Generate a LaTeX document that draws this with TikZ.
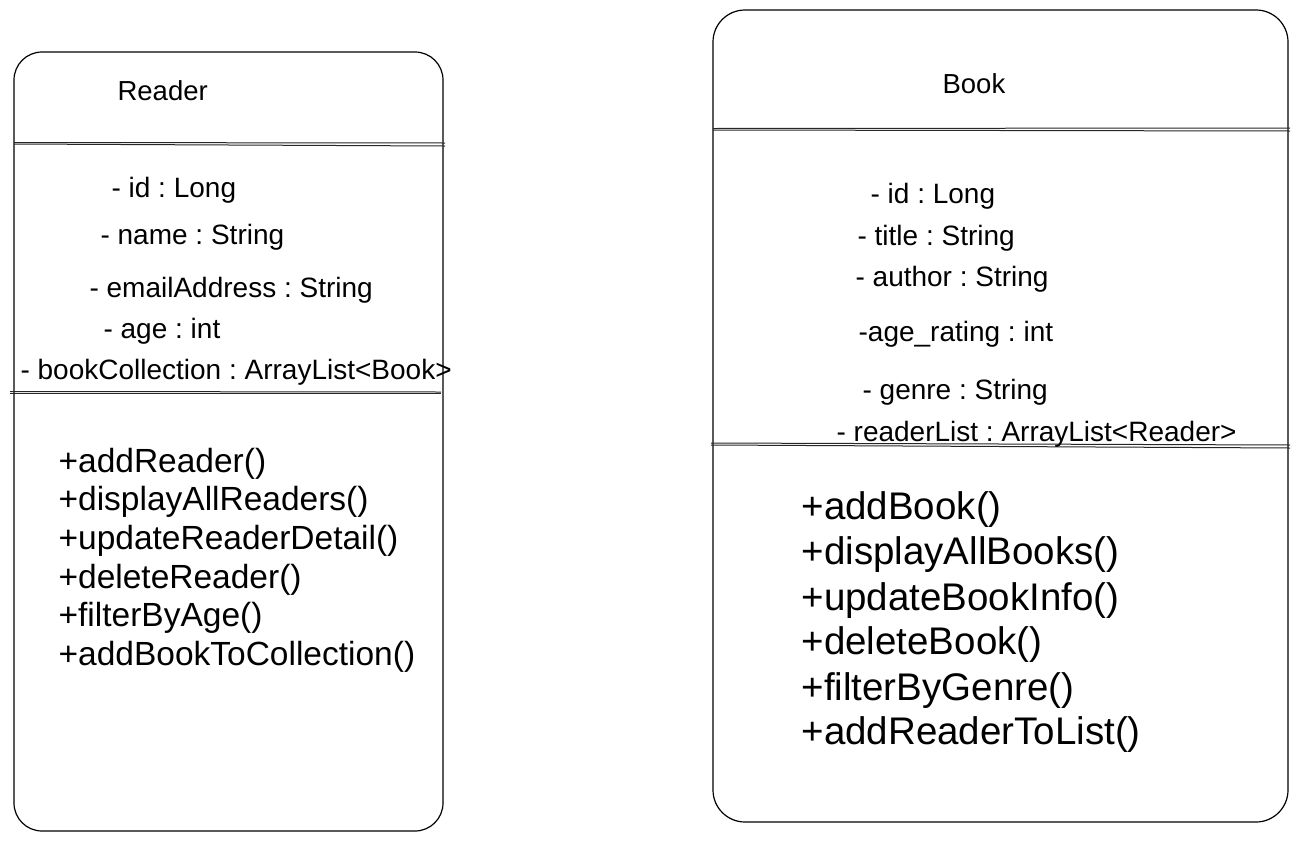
\documentclass[tikz,border=0pt]{standalone}
\usepackage{fontspec}
\setmainfont{Liberation Sans}
\usepackage{tikz}
\usepackage{xcolor}
\frenchspacing

\tikzset{
	title/.style = {anchor=base west, inner sep=0pt, font=\fontsize{27.5}{33}\selectfont},
	attr/.style = {anchor=base west, inner sep=0pt, font=\fontsize{28}{34}\selectfont},
	opsmall/.style = {anchor=base west, inner sep=0pt, font=\fontsize{33.5}{40}\selectfont},
	opbig/.style = {anchor=base west, inner sep=0pt, font=\fontsize{38.5}{46}\selectfont},
	sepline/.style = {line width=1pt, black!85}
}

\begin{document}
\begin{tikzpicture}[x=1pt, y=-1pt, line width=1.2pt]
	\useasboundingbox (0,0) rectangle (1299,841);
	
	% Reader class
	\draw[rounded corners=28pt] (14,52) rectangle (443,831);
	\coordinate (r1w) at (14,144);
	\coordinate (r1e) at (445,146);
	\coordinate (r2w) at (10,393);
	\coordinate (r2e) at (441,393);
	\draw[sepline] (r1w) -- (r1e);
	\draw[sepline] ([yshift=1.5pt]r1w) -- ([yshift=3pt]r1e);
	\draw[sepline] (r2w) -- (r2e);
	\draw[sepline] ([yshift=1.5pt]r2w) -- ([yshift=1pt]r2e);
	
	\node[title] (r0) at (117,100) {Reader};
	
	\node[attr] (ra1) at (111,197) {- id : Long};
	\node[attr] (ra2) at (100,244) {- name : String};
	\node[attr] (ra3) at (89,297) {- emailAddress : String};
	\node[attr] (ra4) at (103,338) {- age : int};
	\node[attr] (ra5) at (20,379) {- bookCollection : ArrayList<Book>};
	
	\node[opsmall] (rm1) at (58,472) {+addReader()};
	\node[opsmall] (rm2) at (58,510) {+displayAllReaders()};
	\node[opsmall] (rm3) at (58,549) {+updateReaderDetail()};
	\node[opsmall] (rm4) at (58,588) {+deleteReader()};
	\node[opsmall] (rm5) at (58,626) {+filterByAge()};
	\node[opsmall] (rm6) at (58,665) {+addBookToCollection()};
	
	% Book class
	\draw[rounded corners=32pt] (713,10) rectangle (1288,822);
	\coordinate (b1w) at (713,130);
	\coordinate (b1e) at (1290,131);
	\coordinate (b2w) at (711,445);
	\coordinate (b2e) at (1290,448);
	\draw[sepline] (b1w) -- (b1e);
	\draw[sepline] ([yshift=1.5pt]b1w) -- ([yshift=3pt]b1e);
	\draw[sepline] (b2w) -- (b2e);
	\draw[sepline] ([yshift=2pt]b2w) -- ([yshift=3pt]b2e);
	
	\node[title] (b0) at (942,93) {Book};
	
	\node[attr] (ba1) at (870,203) {- id : Long};
	\node[attr] (ba2) at (857,245) {- title : String};
	\node[attr] (ba3) at (855,286) {- author : String};
	\node[attr] (ba4) at (858,341) {-age\_rating : int};
	\node[attr] (ba5) at (862,399) {- genre : String};
	\node[attr] (ba6) at (836,441) {- readerList : ArrayList<Reader>};
	
	\node[opbig] (bm1) at (801,519) {+addBook()};
	\node[opbig] (bm2) at (801,564) {+displayAllBooks()};
	\node[opbig] (bm3) at (801,610) {+updateBookInfo()};
	\node[opbig] (bm4) at (801,654) {+deleteBook()};
	\node[opbig] (bm5) at (801,700) {+filterByGenre()};
	\node[opbig] (bm6) at (801,744) {+addReaderToList()};
	
\end{tikzpicture}
\end{document}
